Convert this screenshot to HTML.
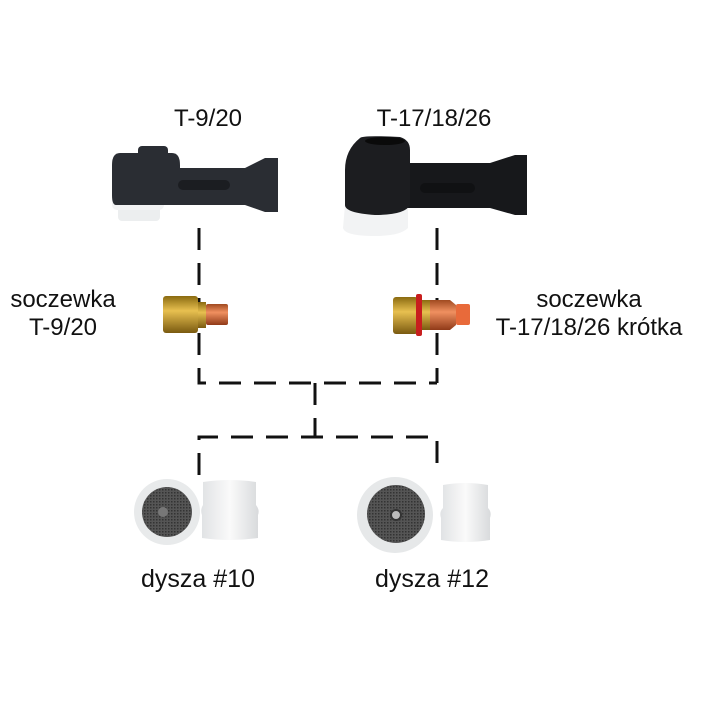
<!DOCTYPE html>
<html><head><meta charset="utf-8"><style>
body{margin:0;background:#fff;width:701px;height:701px;overflow:hidden;position:relative;font-family:"Liberation Sans",Arial,sans-serif}
.t{position:absolute;font-size:24px;color:#111;text-align:center;line-height:28px;transform:translateX(-50%);white-space:nowrap}
svg{position:absolute;left:0;top:0}
</style></head><body>
<svg width="701" height="701" viewBox="0 0 701 701">
<defs>
<linearGradient id="brass" x1="0" y1="0" x2="0" y2="1"><stop offset="0" stop-color="#8a6a10"/><stop offset=".4" stop-color="#e8c050"/><stop offset="1" stop-color="#7a5a10"/></linearGradient>
<linearGradient id="cop" x1="0" y1="0" x2="0" y2="1"><stop offset="0" stop-color="#a04a20"/><stop offset=".4" stop-color="#f09060"/><stop offset="1" stop-color="#903a18"/></linearGradient>
<linearGradient id="wh" x1="0" y1="0" x2="1" y2="0"><stop offset="0" stop-color="#e0e2e4"/><stop offset=".5" stop-color="#fafafa"/><stop offset="1" stop-color="#d8dadc"/></linearGradient>
<pattern id="mesh" width="3" height="3" patternUnits="userSpaceOnUse"><rect width="3" height="3" fill="#555"/><rect width="1.5" height="1.5" fill="#333"/></pattern>
</defs>
<g stroke="#111" stroke-width="3" fill="none" stroke-dasharray="22 13">
<path d="M199 228 V383 H437"/>
<path d="M437 228 V383"/>
<path d="M315 383 V437"/>
<path d="M199 475 V437 H437 V475"/>
</g>
<!-- left torch -->
<rect x="118" y="205" width="42" height="16" rx="4" fill="#eceeef"/>
<rect x="112" y="190" width="52" height="20" rx="5" fill="#f2f3f4"/>
<path d="M170 168 H245 L265 158 H278 V212 H265 L245 205 H170 Z" fill="#2a2d33"/>
<rect x="138" y="146" width="30" height="22" rx="4" fill="#2a2d33"/>
<path d="M120 153 H172 Q180 153 180 165 V200 Q180 205 172 205 H116 Q112 205 112 195 V165 Q112 153 120 153Z" fill="#2a2d33"/>
<rect x="178" y="180" width="52" height="10" rx="5" fill="#1b1d21"/>
<!-- right torch -->
<path d="M345 205 H408 V228 Q400 236 375 236 Q345 236 343 228Z" fill="#f2f3f4"/>
<path d="M400 163 H490 L515 155 H527 V215 H515 L490 208 H400Z" fill="#17181b"/>
<path d="M360 138 Q362 135 400 137 Q410 140 410 150 V205 Q405 215 375 215 Q345 213 345 205 V170 Q345 150 360 138Z" fill="#1c1d20"/>
<ellipse cx="385" cy="141" rx="20" ry="4" fill="#0a0a0a"/>
<rect x="420" y="183" width="55" height="10" rx="5" fill="#101113"/>
<!-- left lens -->
<rect x="163" y="296" width="35" height="37" rx="3" fill="url(#brass)"/>
<rect x="198" y="302" width="8" height="26" fill="url(#brass)"/>
<rect x="206" y="304" width="22" height="21" rx="2" fill="url(#cop)"/>
<!-- right lens -->
<rect x="393" y="297" width="25" height="37" rx="3" fill="url(#brass)"/>
<rect x="416" y="294" width="6" height="42" rx="2" fill="#c81e1e"/>
<rect x="422" y="300" width="8" height="30" fill="url(#brass)"/>
<path d="M430 300 H450 L456 305 V325 L450 330 H430Z" fill="url(#cop)"/>
<rect x="456" y="304" width="14" height="21" rx="2" fill="#e86a3a"/>
<!-- nozzles left -->
<circle cx="167" cy="512" r="33" fill="#e8eaeb"/>
<circle cx="167" cy="512" r="25" fill="url(#mesh)"/>
<circle cx="163" cy="512" r="5" fill="#777"/>
<path d="M203 482 Q230 478 256 482 V505 Q260 510 258 515 V538 Q230 542 202 538 V515 Q200 510 203 505Z" fill="url(#wh)"/>
<!-- nozzles right -->
<circle cx="395" cy="515" r="38" fill="#e6e8e9"/>
<circle cx="396" cy="514" r="29" fill="url(#mesh)"/>
<circle cx="396" cy="515" r="5" fill="#bbb" stroke="#333" stroke-width="2"/>
<path d="M443 485 Q465 481 488 485 V508 Q492 512 490 518 V540 Q465 544 441 540 V518 Q439 512 443 508Z" fill="url(#wh)"/>
</svg>
<div class="t" style="left:208px;top:105px">T-9/20</div>
<div class="t" style="left:434px;top:105px">T-17/18/26</div>
<div class="t" style="left:63px;top:286px">soczewka<br>T-9/20</div>
<div class="t" style="left:589px;top:286px">soczewka<br>T-17/18/26 krótka</div>
<div class="t" style="left:198px;top:565px;font-size:25px">dysza #10</div>
<div class="t" style="left:432px;top:565px;font-size:25px">dysza #12</div>
</body></html>
